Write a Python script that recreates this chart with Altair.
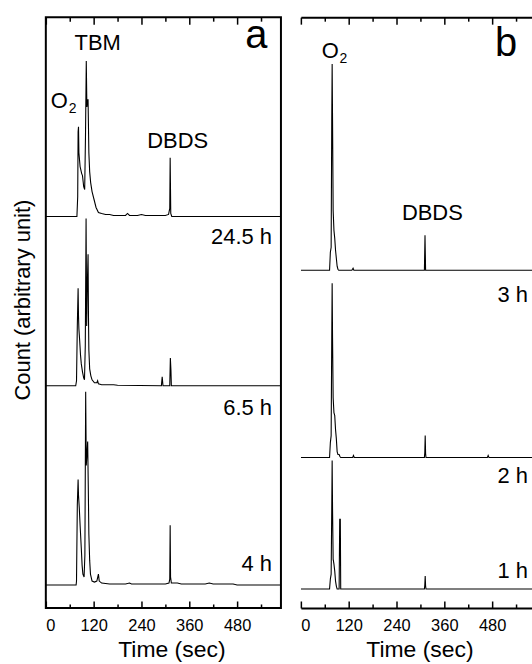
import altair as alt
import pandas as pd

# ---------------- data ----------------
# Panel a traces: time (s) and count (arbitrary units, above own baseline)
t_a1 = [0, 78, 80, 81, 82, 83, 86, 90, 92, 95, 97.5, 99.5, 101.5, 103, 104.5, 106, 108, 110, 112.5, 116, 121, 126, 132, 140, 150, 160, 170, 200, 205, 210, 230, 240, 250, 300, 308, 311, 312, 313.5, 316, 590]
c_a1 = [0, 0, 20, 85, 90, 64, 50, 43, 41, 30, 27, 80, 156, 110, 117, 117, 64, 45, 34, 25, 17, 9, 4, 3, 2, 2, 1, 1, 3, 1, 1, 2, 1, 1, 2, 8, 59, 3, 0, 0]

t_a2 = [0, 75, 77, 79, 81, 82, 83, 85, 87, 89, 92, 95, 97, 99, 101, 102.5, 104, 106, 107, 108, 110, 113, 116, 122, 128, 130, 132, 140, 170, 180, 290, 292, 294, 311, 312.5, 314, 315, 590]
c_a2 = [0, 0, 5, 60, 98, 70, 57, 45, 31, 22, 14, 8, 6, 40, 168, 60, 100, 132, 70, 36, 17, 10, 6, 3, 3, 5, 2, 1, 1, 0.5, 0, 9, 0, 0, 28, 15, 0, 0]

t_a3 = [0, 76, 77, 79, 81, 82, 84, 86, 89, 91, 93, 96, 98, 100, 101.5, 103, 105, 106.5, 108, 110, 112, 116, 122, 128, 132, 134, 140, 160, 200, 210, 215, 300, 309, 311, 312, 313, 315, 330, 340, 400, 410, 420, 470, 480, 590]
c_a3 = [0, 0, 4, 80, 106, 90, 77, 60, 37, 20, 11, 8, 30, 194, 120, 130, 144, 100, 51, 25, 11, 4, 3, 4, 11, 4, 2, 1, 1, 2, 1, 1, 2, 6, 60, 8, 2, 2, 1, 1, 2, 1, 1, 0, 0]

# Panel b traces
t_b1 = [0, 72, 74, 76, 77.5, 78.5, 79.5, 81, 83, 85, 87, 89, 91, 93, 95, 128, 131, 133, 310, 311.5, 313, 580]
c_b1 = [0, 0, 18, 23, 150, 207, 150, 60, 40, 32, 20, 12, 4, 1, 0, 0, 2, 0, 0, 35, 0, 0]

t_b2 = [0, 72, 74, 76, 77.5, 78.5, 79.5, 81, 83, 85, 87, 89, 91, 93, 96, 98, 100, 130, 132, 134, 310, 311, 312, 313, 314, 468, 470, 472, 580]
c_b2 = [0, 0, 15, 22, 120, 175, 120, 60, 45, 42, 28, 19, 6, 3, 3, 1, 0, 0, 2, 0, 0, 5, 22, 4, 0, 0, 2, 0, 0]

t_b3 = [0, 72, 74, 76, 77.5, 78.5, 79.5, 81, 83, 85, 87, 89, 91, 96, 97.5, 99, 100, 310, 311, 312, 313, 314, 580]
c_b3 = [0, 0, 10, 15, 80, 129, 80, 30, 25, 18, 8, 3, 0, 0, 70, 70, 0, 0, 4, 13, 3, 0, 0]

names_a = ["24.5 h", "6.5 h", "4 h"]
offsets_a = [393, 223, 23]
names_b = ["3 h", "2 h", "1 h"]
offsets_b = [339, 151, 19]

major_ticks = [0, 120, 240, 360, 480]
minor_ticks = [60, 180, 300, 420, 540]

# annotations
peak_text_a = ["TBM", "DBDS"]
peak_time_a = [130, 331]
peak_y_a = [560, 462]
peak_text_b = ["DBDS"]
peak_time_b = [330]
peak_y_b = [389]
o_time = [12.5, 52.5]
o_y = [502, 552]
sub_time = [57.5, 97]
sub_y = [497, 547]
hour_time_a = [567.5, 567.5, 567.5]
hour_y_a = [365, 194, 37]
hour_time_b = [570, 570, 570]
hour_y_b = [307, 125, 30]
letter_time = [528, 515]
letter_y = [562, 554]
y_title = ["Count (arbitrary unit)"]


def build(traces, offsets, names):
    rows = []
    for (t, c), off, nm in zip(traces, offsets, names):
        for ti, ci in zip(t, c):
            rows.append({"time": ti, "count": ci + off, "trace": nm})
    return pd.DataFrame(rows)


df_a = build([(t_a1, c_a1), (t_a2, c_a2), (t_a3, c_a3)], offsets_a, names_a)
df_b = build([(t_b1, c_b1), (t_b2, c_b2), (t_b3, c_b3)], offsets_b, names_b)

H = 593
FONT = "Liberation Sans"
ys = alt.Scale(domain=[0, 593], nice=False, zero=False)


def tick_layer(values, orient, size, xs):
    return alt.Chart(pd.DataFrame({"time": values})).mark_rule(opacity=0).encode(
        x=alt.X("time:Q", scale=xs, axis=alt.Axis(
            orient=orient, values=values, labels=False, domain=False,
            ticks=True, tickSize=size, offset=-size, title=None, grid=False)))


def text_layer(times, ys_, texts, xs, align, size):
    d = pd.DataFrame({"time": times, "y": ys_, "label": texts})
    return alt.Chart(d).mark_text(align=align, baseline="alphabetic", fontSize=size,
                                  font=FONT, color="black").encode(
        x=alt.X("time:Q", scale=xs, axis=None),
        y=alt.Y("y:Q", scale=ys, axis=None),
        text="label:N")


def panel(df, xs, width, frame, title_x, peaks, hours, letter, o_idx):
    if frame:
        yaxis = None
    else:
        yaxis = alt.Axis(labels=False, ticks=False, domain=True, title=None)
    lines = alt.Chart(df).mark_line(color="black", strokeWidth=1.1, clip=True).encode(
        x=alt.X("time:Q", scale=xs, axis=alt.Axis(
            orient="bottom", values=major_ticks, ticks=False, domain=not frame,
            title="Time (sec)", titleX=title_x, labelPadding=10, titlePadding=4)),
        y=alt.Y("count:Q", scale=ys, axis=yaxis),
        detail="trace:N")
    layers = [lines,
              tick_layer(major_ticks, "bottom", 7, xs),
              tick_layer(minor_ticks, "bottom", 4, xs),
              tick_layer(major_ticks, "top", 7, xs),
              tick_layer(minor_ticks, "top", 4, xs)]
    if not frame:
        layers.append(alt.Chart(pd.DataFrame({"time": [0]})).mark_rule(opacity=0).encode(
            x=alt.X("time:Q", scale=xs, axis=alt.Axis(
                orient="top", labels=False, ticks=False, domain=True, title=None))))
    else:
        layers.append(alt.Chart(pd.DataFrame({"label": y_title})).mark_text(
            angle=270, fontSize=22, font=FONT, color="black", align="center",
            baseline="middle").encode(
            x=alt.value(-23), y=alt.value(284), text="label:N"))
    layers.append(text_layer(peaks[0], peaks[1], peaks[2], xs, "center", 22))
    layers.append(text_layer(hours[0], hours[1], hours[2], xs, "right", 22))
    layers.append(text_layer([o_time[o_idx]], [o_y[o_idx]], ["O"], xs, "left", 22))
    layers.append(text_layer([sub_time[o_idx]], [sub_y[o_idx]], ["2"], xs, "left", 14))
    layers.append(text_layer([letter_time[o_idx]], [letter_y[o_idx]], [letter], xs, "center", 40))
    ch = alt.layer(*layers).resolve_axis(x="independent").properties(width=width, height=H)
    if not frame:
        ch = ch.properties(view=alt.ViewBackground(stroke=None))
    return ch


xs_a = alt.Scale(domain=[0, 590], nice=False, zero=False)
xs_b = alt.Scale(domain=[0, 580], nice=False, zero=False)

pa = panel(df_a, xs_a, 236, True, 126,
           (peak_time_a, peak_y_a, peak_text_a), (hour_time_a, hour_y_a, names_a), "a", 0)
pb = panel(df_b, xs_b, 232, False, 119,
           (peak_time_b, peak_y_b, peak_text_b), (hour_time_b, hour_y_b, names_b), "b", 1)

chart = alt.hconcat(pa, pb, spacing=18).properties(
    padding={"left": 11, "top": 13, "right": 0, "bottom": 0},
    background="white",
).configure_axis(
    labelFont=FONT, titleFont=FONT, labelColor="black", titleColor="black",
    domainColor="black", tickColor="black", domainWidth=2, tickWidth=1.5,
    labelFontSize=16.5, titleFontSize=23, titleFontWeight="normal", grid=False,
).configure_view(stroke="black", strokeWidth=2)

chart.save("out.html", embed_options={"renderer": "svg", "actions": False})
